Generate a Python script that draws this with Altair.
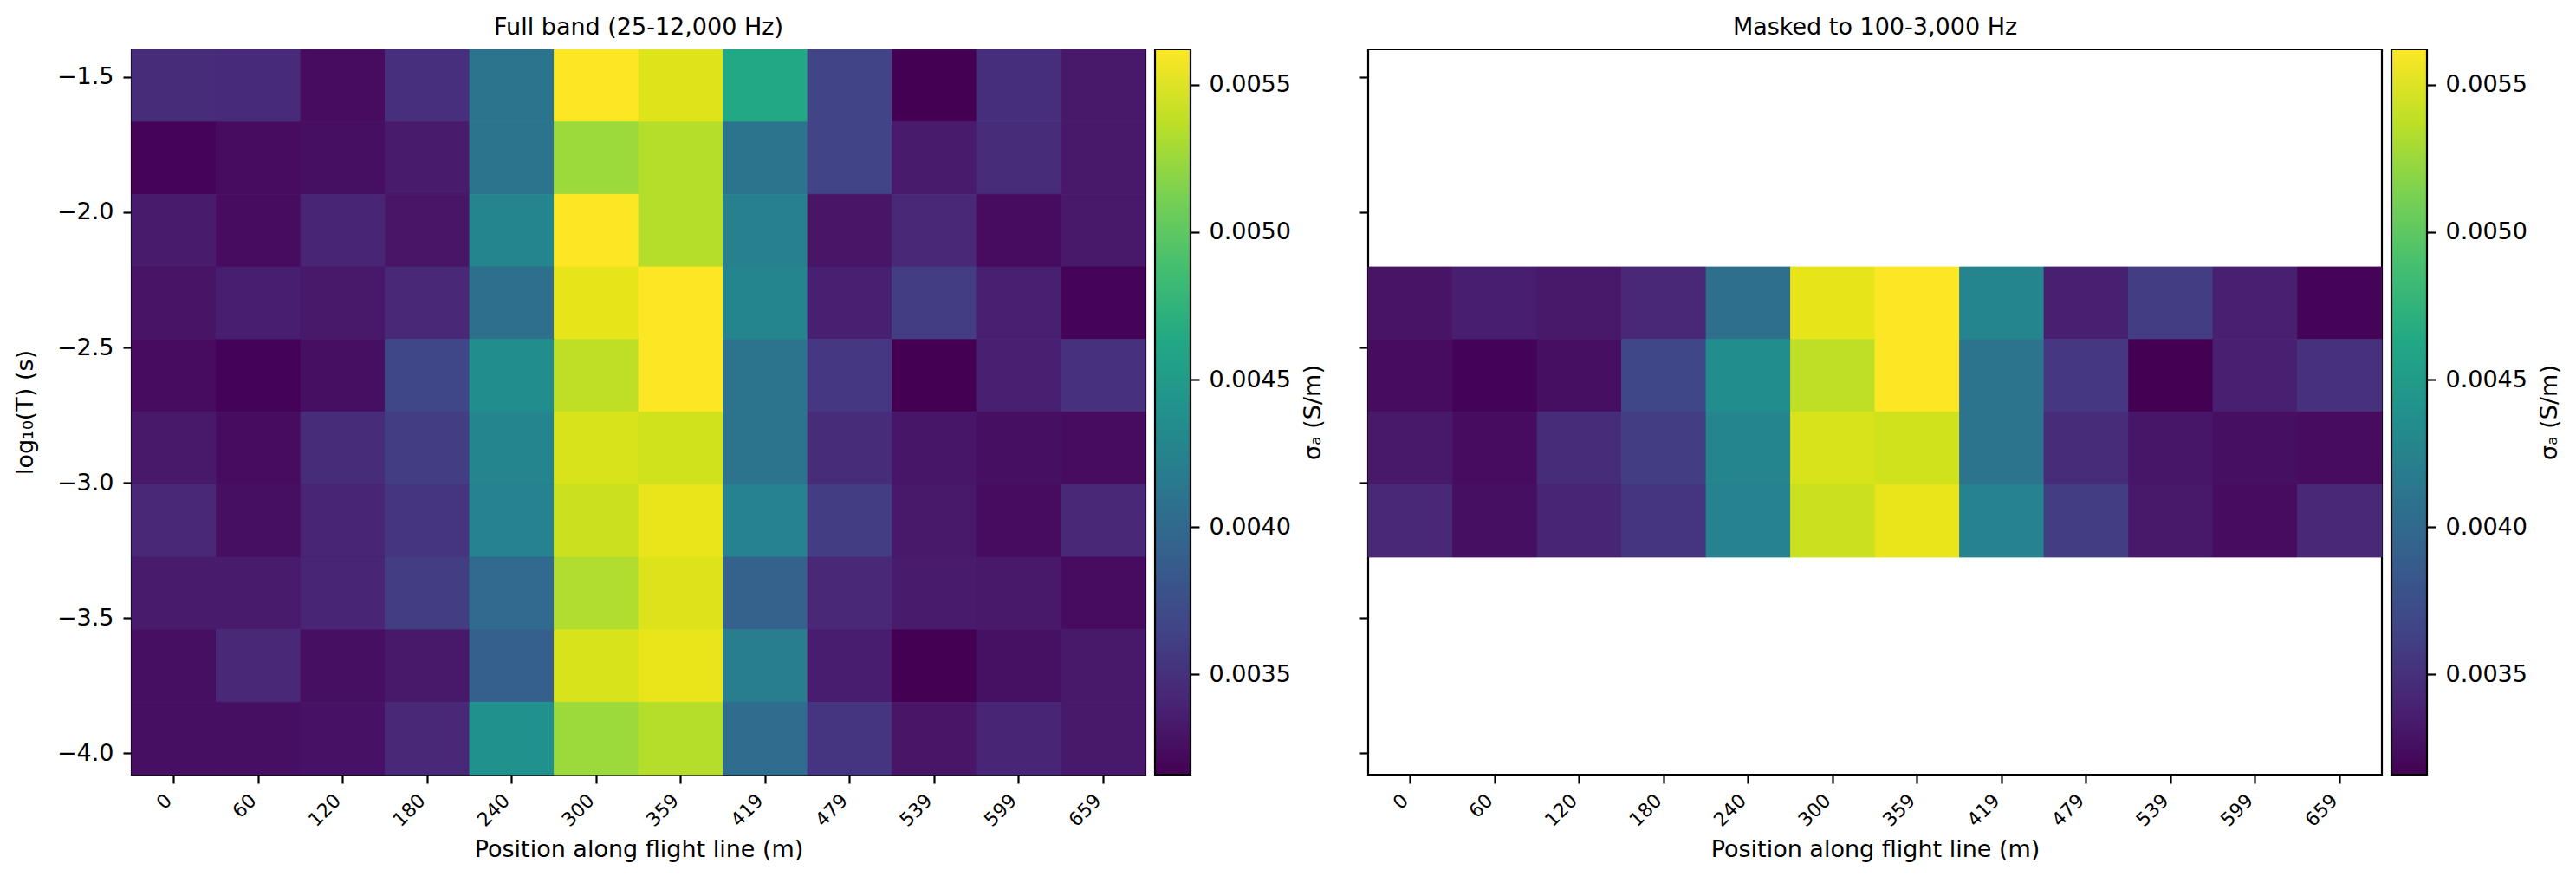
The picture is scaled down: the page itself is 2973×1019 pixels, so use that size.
import altair as alt
import pandas as pd

# ---- data ----
positions = [0, 60, 120, 180, 240, 300, 359, 419, 479, 539, 599, 659]
logT_edges = [-1.398, -1.666, -1.934, -2.202, -2.470, -2.738,
              -3.006, -3.275, -3.543, -3.811, -4.079]
sigma = [
    [0.00346, 0.00345, 0.00323, 0.00349, 0.00410, 0.00562, 0.00550, 0.00464, 0.00365, 0.00316, 0.00348, 0.00331],
    [0.00318, 0.00323, 0.00325, 0.00333, 0.00410, 0.00526, 0.00535, 0.00410, 0.00365, 0.00333, 0.00346, 0.00331],
    [0.00333, 0.00323, 0.00341, 0.00329, 0.00427, 0.00562, 0.00535, 0.00422, 0.00329, 0.00343, 0.00323, 0.00332],
    [0.00328, 0.00336, 0.00331, 0.00343, 0.00405, 0.00553, 0.00562, 0.00427, 0.00337, 0.00360, 0.00337, 0.00318],
    [0.00323, 0.00317, 0.00325, 0.00368, 0.00435, 0.00538, 0.00562, 0.00410, 0.00355, 0.00316, 0.00337, 0.00350],
    [0.00332, 0.00323, 0.00346, 0.00360, 0.00427, 0.00548, 0.00545, 0.00410, 0.00346, 0.00330, 0.00325, 0.00323],
    [0.00343, 0.00325, 0.00341, 0.00353, 0.00424, 0.00543, 0.00554, 0.00424, 0.00360, 0.00332, 0.00323, 0.00343],
    [0.00333, 0.00333, 0.00341, 0.00360, 0.00400, 0.00533, 0.00549, 0.00392, 0.00343, 0.00333, 0.00331, 0.00323],
    [0.00325, 0.00343, 0.00325, 0.00332, 0.00390, 0.00548, 0.00554, 0.00420, 0.00334, 0.00316, 0.00326, 0.00331],
    [0.00325, 0.00325, 0.00327, 0.00343, 0.00439, 0.00526, 0.00535, 0.00402, 0.00353, 0.00329, 0.00341, 0.00331],
]
band_hi = -2.0      # log10(1/100 Hz)
band_lo = -3.477    # log10(1/3000 Hz)
y_ticks = [-1.5, -2.0, -2.5, -3.0, -3.5, -4.0]
cbar_ticks = [0.0035, 0.0040, 0.0045, 0.0050, 0.0055]
title_full = "Full band (25-12,000 Hz)"
title_mask = "Masked to 100-3,000 Hz"
x_title = "Position along flight line (m)"
y_title = "log\u2081\u2080(T) (s)"
c_title = "\u03c3\u2090 (S/m)"

# ---- tables ----
pos_labels = [str(p) for p in positions]
recs = []
for r, vals in enumerate(sigma):
    top, bot = logT_edges[r], logT_edges[r + 1]
    for c, v in enumerate(vals):
        recs.append({"pos": pos_labels[c], "y1": top, "y2": bot, "sigma": v,
                     "in_band": bool(top <= band_hi and bot >= band_lo)})
df = pd.DataFrame(recs)
df_mask = df[df["in_band"]].reset_index(drop=True)

vmin = min(min(r) for r in sigma)
vmax = max(max(r) for r in sigma)
cbar_df = pd.DataFrame({"lo": [vmin], "hi": [vmax]})

viridis_stops = ["#440154", "#482475", "#414487", "#355f8d", "#2a788e", "#21918c",
                 "#22a884", "#44bf70", "#7ad151", "#bddf26", "#fde725"]
gradient = alt.LinearGradient(
    gradient="linear", x1=0, x2=0, y1=1, y2=0,
    stops=[alt.GradientStop(color=col, offset=i / (len(viridis_stops) - 1))
           for i, col in enumerate(viridis_stops)])

FONT = "DejaVu Sans"
W, H = 1170, 837
CB_X0, CB_X1 = 1181, 1222
LW = 2.2


def panel(data, title, show_y):
    cscale = alt.Scale(scheme="viridis", domain=[vmin, vmax])
    x = alt.X("pos:O", sort=pos_labels,
              scale=alt.Scale(paddingInner=0, paddingOuter=0),
              axis=alt.Axis(title=x_title, labelAngle=315, labelAlign="right",
                            labelBaseline="middle", labelFontSize=22,
                            labelPadding=16, labelOffset=-6, titlePadding=10))
    if show_y:
        yaxis = alt.Axis(values=y_ticks, title=y_title,
                         labelExpr="replace(format(datum.value, '.1f'), '-', '\u2212')",
                         labelPadding=11, titlePadding=22)
    else:
        yaxis = alt.Axis(values=y_ticks, labels=False, title=None)
    y = alt.Y("y1:Q", scale=alt.Scale(domain=[logT_edges[-1], logT_edges[0]],
                                       nice=False, zero=False), axis=yaxis)
    heat = alt.Chart(data).mark_rect(strokeWidth=0.8).encode(
        x=x, y=y, y2="y2:Q",
        fill=alt.Fill("sigma:Q", scale=cscale, legend=None),
        stroke=alt.Stroke("sigma:Q", scale=cscale, legend=None),
    )
    cbar = alt.Chart(cbar_df).mark_rect(fill=gradient, stroke="black",
                                        strokeWidth=LW).encode(
        x=alt.value(CB_X0), x2=alt.value(CB_X1),
        y=alt.Y("lo:Q", scale=alt.Scale(domain=[vmin, vmax], nice=False, zero=False),
                axis=alt.Axis(orient="right", offset=CB_X1 - W, values=cbar_ticks,
                              format=".4f", title=c_title, titleAngle=270,
                              titleBaseline="top", labelPadding=11,
                              titlePadding=13)),
        y2="hi:Q",
    )
    return alt.layer(heat, cbar).resolve_scale(y="independent").properties(
        width=W, height=H,
        title=alt.TitleParams(title, frame="group", fontSize=27, fontWeight="normal",
                              font=FONT, color="black", offset=10),
    )


chart = alt.hconcat(
    panel(df, title_full, True),
    panel(df_mask, title_mask, False),
    spacing=36,
).configure(
    padding={"left": 6, "top": 8, "right": 5, "bottom": 5},
    background="white",
).configure_view(
    stroke="black", strokeWidth=LW,
).configure_axis(
    labelFont=FONT, titleFont=FONT, labelFontSize=27, titleFontSize=27,
    titleFontWeight="normal", labelColor="black", titleColor="black",
    tickColor="black", tickSize=10, tickWidth=LW, domain=False, grid=False,
)

chart.save("out.html", embed_options={"renderer": "svg", "actions": False})
